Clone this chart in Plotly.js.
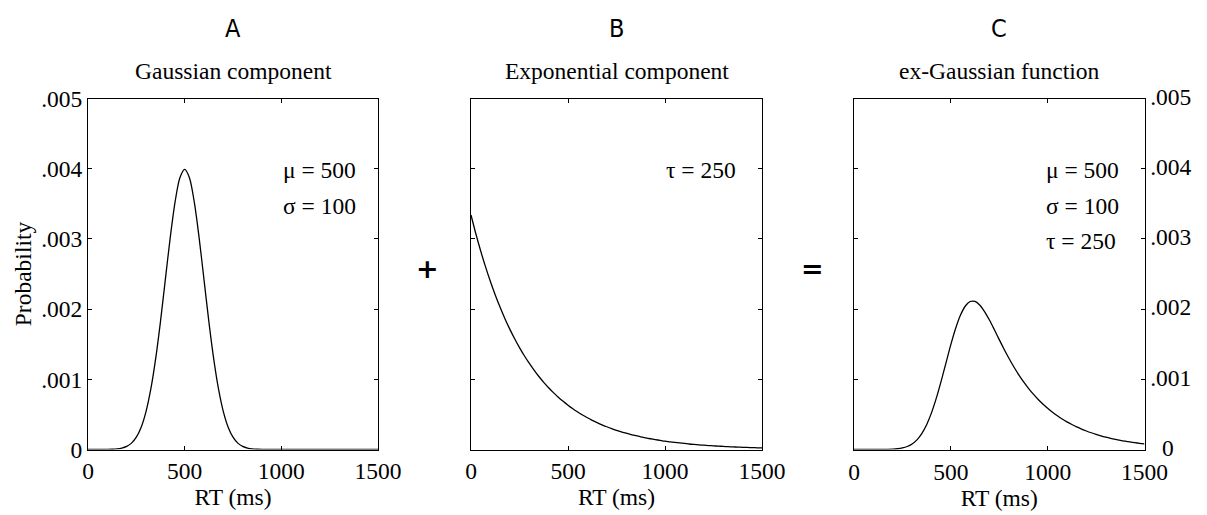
<!DOCTYPE html>
<html><head><meta charset="utf-8">
<script src="https://cdn.plot.ly/plotly-3.0.1.min.js"></script>
<style>html,body{margin:0;padding:0;background:#fff;}#chart{width:1207px;height:515px;}</style>
</head><body><div id="chart"></div>
<script>
// ---- data ----
const rt = [0,25,50,75,100,125,150,175,200,225,250,275,300,325,350,375,400,425,450,475,
  500,525,550,575,600,625,650,675,700,725,750,775,800,825,850,875,900,925,950,975,
  1000,1025,1050,1075,1100,1125,1150,1175,1200,1225,1250,1275,1300,1325,1350,1375,1400,1425,1450,1475,1500];

const gaussian = [0,0,0,0,0.0000013,0.0000035,0.0000087,0.0000203,0.0000443,0.0000909,
  0.000175,0.000317,0.00054,0.000863,0.001295,0.001826,0.00242,0.003011,0.003521,0.003867,
  0.003989,0.003867,0.003521,0.003011,0.00242,0.001826,0.001295,0.000863,0.00054,0.000317,
  0.000175,0.0000909,0.0000443,0.0000203,0.0000087,0.0000035,0.0000013,0,0,0,
  0,0,0,0,0,0,0,0,0,0,0,0,0,0,0,0,0,0,0,0,0];

const exponential = [0.003340,0.003073,0.002827,0.002601,0.002393,0.002202,0.002026,0.001864,0.001715,0.001578,
  0.001452,0.001335,0.001229,0.001131,0.001040,0.000957,0.000880,0.000810,0.000745,0.000686,
  0.000631,0.000580,0.000534,0.000491,0.000452,0.000416,0.000383,0.000352,0.000324,0.000298,
  0.000274,0.000252,0.000232,0.000213,0.000196,0.000181,0.000166,0.000153,0.000141,0.000130,
  0.000119,0.000110,0.000101,0.000093,0.000086,0.000078,0.000072,0.000066,0.000061,0.000056,
  0.000052,0.000048,0.000044,0.000040,0.000037,0.000034,0.000031,0.000029,0.000027,0.000024,0.000022];

const exGaussian = [0,0,0,0,0.0000001,0.0000003,0.0000008,0.0000021,0.0000049,0.0000106,
  0.0000220,0.0000428,0.0000791,0.0001377,0.0002268,0.0003534,0.0005220,0.0007316,0.0009743,0.0012345,
  0.0014932,0.0017267,0.0019150,0.0020440,0.0021080,0.0021085,0.0020553,0.0019612,0.0018405,0.0017049,
  0.0015655,0.0014288,0.0012991,0.0011782,0.0010673,0.0009664,0.0008747,0.0007915,0.0007163,0.0006482,
  0.0005865,0.0005307,0.0004802,0.0004345,0.0003932,0.0003558,0.0003219,0.0002913,0.0002636,0.0002385,
  0.0002158,0.0001953,0.0001767,0.0001599,0.0001447,0.0001309,0.0001185,0.0001072,0.0000970,0.0000878,0.0000794];

const xTicks = [0,500,1000,1500];
const xTickLabels = ['0','500','1000','1500'];
const yTicks = [0,0.001,0.002,0.003,0.004,0.005];
const yTickLabels = ['0','.001','.002','.003','.004','.005'];
const yTickLabelsRight = ['\u00a0\u00a00','.001','.002','.003','.004','.005'];
const panelLetters = ['A','B','C'];
const panelTitles = ['Gaussian component','Exponential component','ex-Gaussian function'];
const paramTexts = [['μ = 500','σ = 100'],['τ = 250'],['μ = 500','σ = 100','τ = 250']];
const operators = ['+','='];
const xTitle = 'RT (ms)';
const yTitle = 'Probability';

// ---- layout ----
const W = 1207, H = 515;
const px = v => v / W, py = v => 1 - v / H;
const serif = 'Liberation Serif, Times New Roman, serif';
const sans = 'Liberation Sans Narrow, DejaVu Sans Condensed, Open Sans, sans-serif';
const FS = 23.5;
const xDomains = [[88, 378], [471, 762], [854, 1144.5]];
const yDomain = [py(449.5), py(98.5)];

function xAxis(i) {
  return {
    domain: [px(xDomains[i][0]), px(xDomains[i][1])],
    anchor: i === 0 ? 'y' : 'y' + (i + 1),
    range: [0, 1500], tickvals: xTicks, ticktext: xTickLabels,
    ticks: 'inside', ticklen: 4, tickwidth: 1, tickcolor: '#000',
    showline: true, linecolor: '#000', linewidth: 1, mirror: 'ticks',
    showgrid: false, zeroline: false, ticklabelstandoff: i === 2 ? 1 : 0,
    tickfont: {family: serif, size: FS, color: '#000'},
    title: {text: xTitle, font: {family: serif, size: FS, color: '#000'}, standoff: i === 2 ? 4 : 5}
  };
}
function yAxis(i) {
  const a = {
    domain: yDomain,
    anchor: i === 0 ? 'x' : 'x' + (i + 1),
    range: [0, 0.005], tickvals: yTicks, ticktext: i === 2 ? yTickLabelsRight : yTickLabels,
    ticks: 'inside', ticklen: 4, tickwidth: 1, tickcolor: '#000',
    showline: true, linecolor: '#000', linewidth: 1, mirror: 'ticks',
    showgrid: false, zeroline: false,
    tickfont: {family: serif, size: FS, color: '#000'}
  };
  if (i === 0) {
    a.title = {text: yTitle, font: {family: serif, size: FS, color: '#000'}, standoff: 2};
  }
  if (i === 1) a.showticklabels = false;
  if (i === 2) { a.side = 'right'; a.ticklabelshift = -2; }
  return a;
}

const series = [gaussian, exponential, exGaussian];
const traces = series.map((s, i) => ({
  x: rt, y: s, type: 'scatter', mode: 'lines',
  xaxis: i === 0 ? 'x' : 'x' + (i + 1), yaxis: i === 0 ? 'y' : 'y' + (i + 1),
  line: {color: '#000', width: 1.3, shape: 'spline', smoothing: 0.8},
  hoverinfo: 'skip', showlegend: false
}));

const annotations = [];
const centers = xDomains.map(d => (d[0] + d[1]) / 2);
panelLetters.forEach((t, i) => annotations.push({
  text: t, xref: 'paper', yref: 'paper', x: px(centers[i]), y: py(28),
  xanchor: 'center', yanchor: 'middle', showarrow: false,
  font: {family: sans, size: 25, color: '#000'}
}));
panelTitles.forEach((t, i) => annotations.push({
  text: t, xref: 'paper', yref: 'paper', x: px(centers[i]), y: py(71),
  xanchor: 'center', yanchor: 'middle', showarrow: false,
  font: {family: serif, size: FS, color: '#000'}
}));
const paramLeft = [281, 664, 1044];
paramTexts.forEach((lines, i) => lines.forEach((t, j) => annotations.push({
  text: t, xref: 'paper', yref: 'paper', x: px(paramLeft[i]), y: py(170 + 35.5 * j),
  xanchor: 'left', yanchor: 'middle', showarrow: false,
  font: {family: serif, size: FS, color: '#000'}
})));
const opX = [427, 812];
operators.forEach((t, i) => annotations.push({
  text: '<b>' + t + '</b>', xref: 'paper', yref: 'paper', x: px(opX[i]), y: py(268),
  xanchor: 'center', yanchor: 'middle', showarrow: false,
  font: {family: 'DejaVu Sans, sans-serif', size: 27, color: '#000'}
}));

const layout = {
  width: W, height: H,
  margin: {l: 0, r: 0, t: 0, b: 0},
  paper_bgcolor: '#fff', plot_bgcolor: '#fff',
  xaxis: xAxis(0), xaxis2: xAxis(1), xaxis3: xAxis(2),
  yaxis: yAxis(0), yaxis2: yAxis(1), yaxis3: yAxis(2),
  annotations: annotations, showlegend: false
};

Plotly.newPlot('chart', traces, layout, {displayModeBar: false, staticPlot: true});
</script>
</body></html>
